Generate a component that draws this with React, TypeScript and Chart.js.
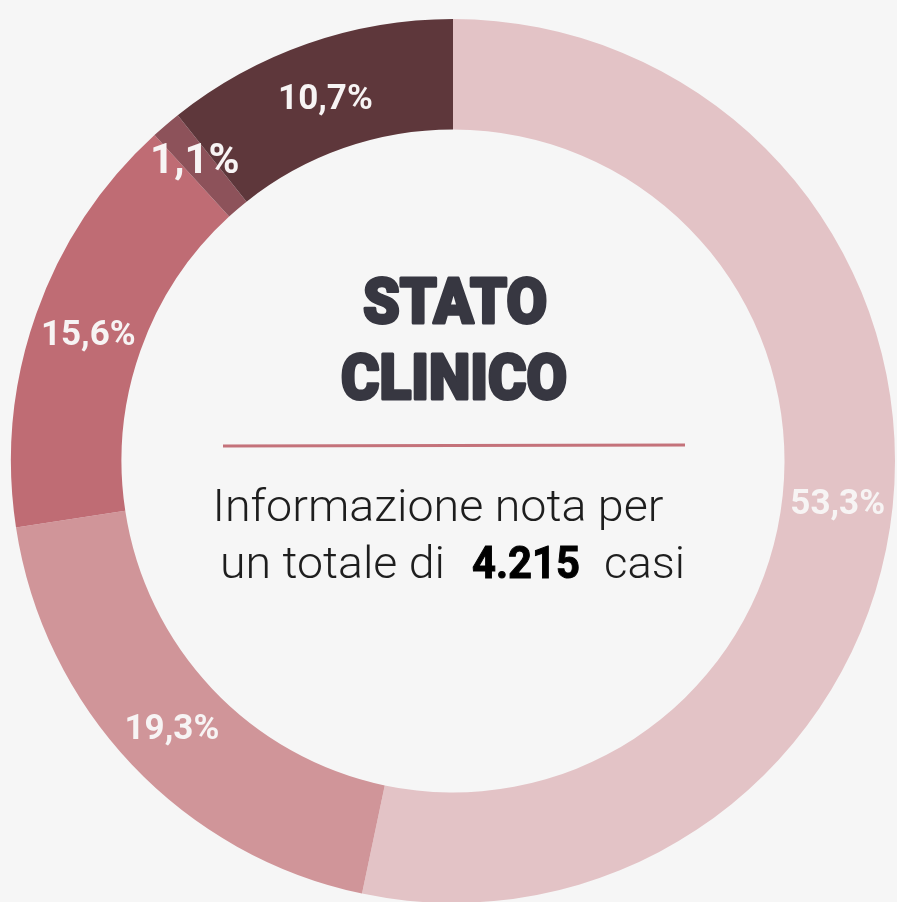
import React, { useEffect, useRef } from "react";
import { Chart, registerables } from "chart.js";

Chart.register(...registerables);

const categories = ["Asintomatico", "Paucisintomatico", "Lieve", "Critico", "Severo"];
const values = [53.3, 19.3, 15.6, 1.1, 10.7];
const colors = ["#e3c3c6", "#d09599", "#bf6c74", "#8d525a", "#5e373b"];
const titleLines = ["STATO", "CLINICO"];
const subtitleLine1 = "Informazione nota per";
const subtitleLine2 = ["un totale di", "4.215", "casi"];

const fmt = (v: number) => v.toFixed(1).replace(".", ",") + "%";

function fitText(ctx: CanvasRenderingContext2D, text: string, x: number, y: number, width: number, stroke = 0) {
  const m = ctx.measureText(text).width;
  ctx.save();
  ctx.translate(x, y);
  ctx.scale(width / m, 1);
  ctx.textAlign = "center";
  if (stroke > 0) {
    ctx.lineJoin = "round";
    ctx.lineWidth = stroke;
    ctx.strokeStyle = ctx.fillStyle as string;
    ctx.strokeText(text, 0, 0);
  }
  ctx.fillText(text, 0, 0);
  ctx.restore();
}

const labelPlugin = {
  id: "sliceLabels",
  afterDatasetsDraw(chart: any) {
    const ctx: CanvasRenderingContext2D = chart.ctx;
    const meta = chart.getDatasetMeta(0);
    ctx.save();
    ctx.fillStyle = "#f7f4f4";
    ctx.textAlign = "center";
    ctx.textBaseline = "middle";
    meta.data.forEach((arc: any, i: number) => {
      const p = arc.getCenterPoint();
      const small = i === 3;
      const size = small ? 42 : 35;
      ctx.font = `bold ${size}px Roboto`;
      ctx.fillText(fmt(values[i]), p.x - (small ? 7 : 0), p.y + (small ? -4 : 4));
    });
    ctx.restore();
  },
};

const centerPlugin = {
  id: "centerText",
  afterDraw(chart: any) {
    const ctx: CanvasRenderingContext2D = chart.ctx;
    ctx.save();
    ctx.textBaseline = "alphabetic";
    ctx.fillStyle = "#373741";
    ctx.font = "900 63px Roboto";
    fitText(ctx, titleLines[0], 455, 323, 184, 3);
    fitText(ctx, titleLines[1], 454, 399, 226, 3);

    ctx.strokeStyle = "#c4727a";
    ctx.lineWidth = 3;
    ctx.beginPath();
    ctx.moveTo(223, 446);
    ctx.lineTo(685, 445);
    ctx.stroke();

    ctx.fillStyle = "#1e1e1e";
    ctx.font = "300 44px Roboto";
    fitText(ctx, subtitleLine1, 438, 521, 451);
    ctx.textAlign = "left";
    ctx.font = "300 44px Roboto";
    const w0 = ctx.measureText(subtitleLine2[0]).width;
    ctx.save();
    ctx.translate(220, 578);
    ctx.scale(225 / w0, 1);
    ctx.fillText(subtitleLine2[0], 0, 0);
    ctx.restore();
    ctx.fillStyle = "#000000";
    ctx.font = "bold 44px Roboto";
    const w1 = ctx.measureText(subtitleLine2[1]).width;
    ctx.save();
    ctx.translate(472, 578);
    ctx.scale(108 / w1, 1);
    ctx.lineWidth = 1;
    ctx.strokeStyle = "#000000";
    ctx.strokeText(subtitleLine2[1], 0, 0);
    ctx.fillText(subtitleLine2[1], 0, 0);
    ctx.restore();
    ctx.fillStyle = "#1e1e1e";
    ctx.font = "300 44px Roboto";
    const w2 = ctx.measureText(subtitleLine2[2]).width;
    ctx.save();
    ctx.translate(604, 578);
    ctx.scale(81 / w2, 1);
    ctx.fillText(subtitleLine2[2], 0, 0);
    ctx.restore();
    ctx.restore();
  },
};

export default function App() {
  const ref = useRef<HTMLCanvasElement | null>(null);
  useEffect(() => {
    document.body.style.margin = "0";
    document.body.style.background = "#f6f6f6";
    if (!ref.current) return;
    const chart = new Chart(ref.current, {
      type: "doughnut",
      data: {
        labels: categories,
        datasets: [
          {
            data: values,
            backgroundColor: colors,
            borderWidth: 0,
          },
        ],
      },
      options: {
        responsive: false,
        animation: false,
        cutout: "75%",
        rotation: 0,
        layout: { padding: { left: 11, right: 2, top: 19, bottom: 19 } },
        plugins: {
          legend: { display: false },
          tooltip: { enabled: false },
        },
      },
      plugins: [labelPlugin, centerPlugin],
    });
    return () => chart.destroy();
  }, []);
  return (
    <div style={{ position: "fixed", left: 0, top: 0, width: 897, height: 902, overflow: "hidden", background: "#f6f6f6" }}>
      <canvas ref={ref} width={897} height={922} style={{ display: "block" }} />
    </div>
  );
}
